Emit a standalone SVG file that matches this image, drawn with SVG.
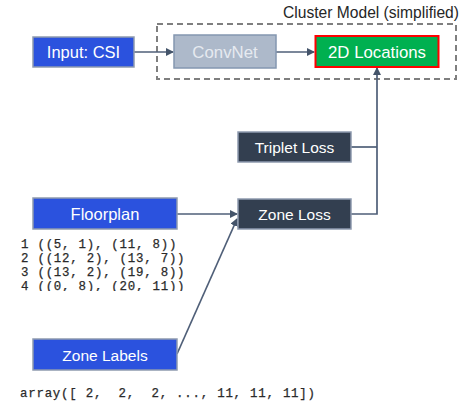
<svg xmlns="http://www.w3.org/2000/svg" width="471" height="406" viewBox="0 0 471 406">
<style>
.lbl{font-family:"Liberation Sans",Arial,sans-serif;text-anchor:middle;fill:#ffffff}
.blue{fill:#2B52DE;stroke:#8E9AAF;stroke-width:1.5}
.dark{fill:#333F50;stroke:#8E9AAF;stroke-width:1.5}
.code{font-family:"Liberation Mono","DejaVu Sans Mono",monospace;font-size:12.4px;letter-spacing:0.78px;fill:#2A2A2A;white-space:pre;stroke:#2A2A2A;stroke-width:0.25}
.conn{fill:none;stroke:#4F5F78;stroke-width:1.7}
</style>
<defs>
<marker id="ah" markerWidth="8" markerHeight="8" refX="7" refY="4" orient="auto" markerUnits="userSpaceOnUse">
<path d="M0,0 L8,4 L0,8 Z" fill="#44546A"/>
</marker>
<clipPath id="clipcode"><rect x="0" y="232" width="300" height="59"/></clipPath>
</defs>
<rect width="471" height="406" fill="#ffffff"/>

<g id="cluster">
<rect x="157" y="24" width="299" height="55" fill="none" stroke="#7F7F7F" stroke-width="2" stroke-dasharray="6,4"/>
<text x="459" y="18" font-family="Liberation Sans,Arial,sans-serif" font-size="15.6" fill="#262626" text-anchor="end">Cluster Model (simplified)</text>
</g>

<g id="connectors">
<line class="conn" x1="134" y1="52" x2="173" y2="52" marker-end="url(#ah)"/>
<line class="conn" x1="276" y1="52" x2="314" y2="52" marker-end="url(#ah)"/>
<polyline class="conn" points="351,147 377,147"/>
<polyline class="conn" points="351,214 377,214 377,68" marker-end="url(#ah)"/>
<line class="conn" x1="177" y1="214" x2="237" y2="214" marker-end="url(#ah)"/>
<line class="conn" x1="177" y1="354" x2="237" y2="219" marker-end="url(#ah)"/>
</g>

<g id="input-csi">
<rect class="blue" x="33" y="37" width="101" height="30"/>
<text class="lbl" x="83.5" y="58" font-size="16.5">Input: CSI</text>
</g>

<g id="convnet">
<rect x="174" y="35" width="102" height="33" fill="#ADB9CA" stroke="#8497B0" stroke-width="1.5"/>
<text class="lbl" x="225" y="58" font-size="16.8" style="fill:#E6EAF0">ConvNet</text>
</g>

<g id="locations-2d">
<rect x="315.5" y="36" width="123" height="31" fill="#00B050" stroke="#FF0000" stroke-width="2"/>
<text class="lbl" x="377" y="58" font-size="16.8">2D Locations</text>
</g>

<g id="triplet-loss">
<rect class="dark" x="238" y="132" width="113" height="30"/>
<text class="lbl" x="294.5" y="152.5" font-size="15.5">Triplet Loss</text>
</g>

<g id="zone-loss">
<rect class="dark" x="238" y="199" width="113" height="30"/>
<text class="lbl" x="294.5" y="219.5" font-size="15.5">Zone Loss</text>
</g>

<g id="floorplan">
<rect class="blue" x="33" y="198" width="144" height="31"/>
<text class="lbl" x="105" y="219.5" font-size="16.5">Floorplan</text>
<text class="code" x="21" y="248" clip-path="url(#clipcode)"><tspan x="21" y="248">1 ((5, 1), (11, 8))</tspan><tspan x="21" y="262">2 ((12, 2), (13, 7))</tspan><tspan x="21" y="276">3 ((13, 2), (19, 8))</tspan><tspan x="21" y="290">4 ((0, 8), (20, 11))</tspan></text>
</g>

<g id="zone-labels">
<rect class="blue" x="33" y="339" width="144" height="31"/>
<text class="lbl" x="105" y="360.5" font-size="15.5">Zone Labels</text>
<text class="code" x="20" y="397">array([ 2,  2,  2, ..., 11, 11, 11])</text>
</g>
</svg>
